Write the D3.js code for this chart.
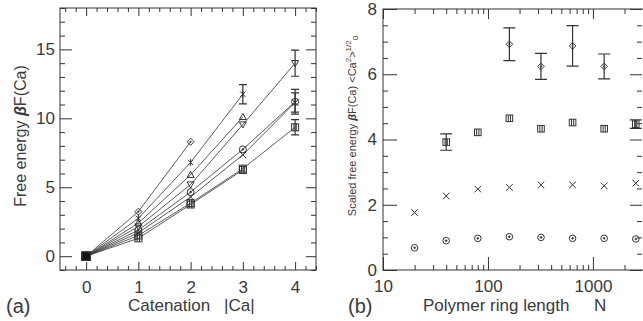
<!DOCTYPE html>
<html>
<head>
<meta charset="utf-8">
<script src="https://cdn.jsdelivr.net/npm/d3@7"></script>
<style>
  body { margin: 0; background: #fff; }
  text { font-family: "Liberation Sans", Arial, sans-serif; fill: #3a3a3a; }
</style>
</head>
<body>
<div id="chart"></div>
<script>
// ---- panel (a): free energy vs catenation ----
const catenation = [0, 1, 2, 3, 4];
const feDiamond  = [0, 3.23, 8.3];
const feStar     = [0, 2.75, 6.8, 11.75];
const feTri      = [0, 2.4, 5.9, 10.1];
const feTriDown  = [0, 2.15, 5.2, 9.55, 14.0];
const feCircle   = [0, 1.9, 4.65, 7.75, 11.2];
const feCross    = [0, 1.7, 4.3, 7.35, 11.15];
const feSquare   = [0, 1.5, 3.85, 6.35, 9.35];
const feSquare2  = [0, 1.3, 3.75, 6.25];
// error bars (same index as catenation), null = none
const errStar    = [null, null, null, 0.7];
const errTriDown = [null, null, null, null, 0.95];
const errCircle  = [null, null, null, null, 0.9];
const errCross   = [null, null, null, null, 0.7];
const errSquare  = [null, null, null, null, 0.55];
const xTicksA = [0, 1, 2, 3, 4];
const yTicksA = [0, 5, 10, 15];

// ---- panel (b): scaled free energy vs ring length ----
const ringLength = [20, 40, 80, 160, 320, 640, 1280, 2560];
const scaledCa1 = [0.68, 0.90, 0.97, 1.02, 1.00, 0.97, 0.97, 0.95];
const scaledCa2 = [1.76, 2.27, 2.48, 2.53, 2.61, 2.61, 2.58, 2.66];
const scaledCa3 = [null, 3.92, 4.22, 4.65, 4.33, 4.52, 4.33, 4.47];
const errCa3    = [null, 0.25, null, null, null, null, null, 0.13];
const scaledCa4 = [null, null, null, 6.92, 6.24, 6.87, 6.24, null];
const errCa4    = [null, null, null, 0.5, 0.4, 0.62, 0.38, null];
const xTicksB = [10, 100, 1000];
const yTicksB = [0, 2, 4, 6, 8];

const W = 643, H = 321;
const ink = '#333';

const svg = d3.select('#chart').append('svg')
    .attr('width', W)
    .attr('height', H);

function marker(g, type, cx, cy, r) {
    const s = g.append('g').attr('transform', `translate(${cx},${cy})`)
        .attr('fill', 'none').attr('stroke', ink).attr('stroke-width', 1);
    if (type === 'filled') {
        s.append('rect').attr('x', -r).attr('y', -r).attr('width', 2 * r).attr('height', 2 * r)
            .attr('fill', '#111');
    } else if (type === 'diamond') {
        s.append('path').attr('d', `M0,${-r}L${r},0L0,${r}L${-r},0Z`);
        s.append('circle').attr('r', 0.6).attr('fill', ink);
    } else if (type === 'star') {
        const d = r * 0.75;
        s.append('path').attr('d', `M0,${-r}V${r}M${-d},${-d}L${d},${d}M${-d},${d}L${d},${-d}`);
    } else if (type === 'tri') {
        s.append('path').attr('d', `M0,${-r}L${r},${r * 0.75}L${-r},${r * 0.75}Z`);
    } else if (type === 'triDown') {
        s.append('path').attr('d', `M0,${r}L${r},${-r * 0.75}L${-r},${-r * 0.75}Z`);
    } else if (type === 'circle') {
        s.append('circle').attr('r', r);
        s.append('circle').attr('r', 0.8).attr('fill', ink);
    } else if (type === 'cross') {
        s.append('path').attr('d', `M${-r},${-r}L${r},${r}M${-r},${r}L${r},${-r}`);
    } else if (type === 'square') {
        s.append('rect').attr('x', -r).attr('y', -r).attr('width', 2 * r).attr('height', 2 * r);
        s.append('path').attr('d', `M${-r / 3},${-r}V${r}M${r / 3},${-r}V${r}`);
    }
}

function errBar(g, cx, y0, y1, cap) {
    g.append('path')
        .attr('d', `M${cx},${y0}V${y1}M${cx - cap},${y0}H${cx + cap}M${cx - cap},${y1}H${cx + cap}`)
        .attr('stroke', ink).attr('stroke-width', 1.2).attr('fill', 'none');
}

function ticks(g, axisFn, scale, values, size, pos, labels, pad) {
    const ax = g.append('g')
        .attr('transform', pos)
        .call(axisFn(scale).tickValues(values).tickSizeInner(-size).tickSizeOuter(0)
            .tickPadding(pad || 0)
            .tickFormat(labels ? d3.format('d') : ''));
    ax.select('.domain').remove();
    ax.selectAll('line').attr('stroke', ink).attr('stroke-width', 1);
    ax.selectAll('text').attr('fill', '#3a3a3a').attr('font-size', 17)
        .attr('font-family', '"Liberation Sans", Arial, sans-serif');
    return ax;
}

// ================= panel (a) =================
const A = { left: 60, right: 316, top: 8, bottom: 270 };
const xA = d3.scaleLinear().domain([-0.5, 4.4]).range([A.left, A.right]);
const yA = d3.scaleLinear().domain([-1, 18]).range([A.bottom, A.top]);
const gA = svg.append('g');

const minorXA = d3.range(-0.4, 4.41, 0.2).map(v => +v.toFixed(1)).filter(v => !xTicksA.includes(v));
const minorYA = d3.range(-1, 18.01, 1).filter(v => !yTicksA.includes(v));

ticks(gA, d3.axisBottom, xA, xTicksA, 8, `translate(0,${A.bottom})`, true, 11);
ticks(gA, d3.axisBottom, xA, minorXA, 4, `translate(0,${A.bottom})`, false);
ticks(gA, d3.axisTop, xA, xTicksA, 8, `translate(0,${A.top})`, false);
ticks(gA, d3.axisTop, xA, minorXA, 4, `translate(0,${A.top})`, false);
ticks(gA, d3.axisLeft, yA, yTicksA, 12, `translate(${A.left},0)`, true, 5);
ticks(gA, d3.axisLeft, yA, minorYA, 5, `translate(${A.left},0)`, false);
ticks(gA, d3.axisRight, yA, yTicksA, 10, `translate(${A.right},0)`, false);
ticks(gA, d3.axisRight, yA, minorYA, 5, `translate(${A.right},0)`, false);

gA.append('rect')
    .attr('x', A.left).attr('y', A.top)
    .attr('width', A.right - A.left).attr('height', A.bottom - A.top)
    .attr('fill', 'none').attr('stroke', ink).attr('stroke-width', 1);

const seriesA = [
    { vals: feSquare2, err: null, type: 'square' },
    { vals: feSquare, err: errSquare, type: 'square' },
    { vals: feCross, err: errCross, type: 'cross' },
    { vals: feCircle, err: errCircle, type: 'circle' },
    { vals: feTriDown, err: errTriDown, type: 'triDown' },
    { vals: feTri, err: null, type: 'tri' },
    { vals: feStar, err: errStar, type: 'star' },
    { vals: feDiamond, err: null, type: 'diamond' }
];

const lineA = d3.line().x((d, i) => xA(catenation[i])).y(d => yA(d));

seriesA.forEach(s => {
    gA.append('path')
        .datum(s.vals)
        .attr('d', lineA)
        .attr('fill', 'none')
        .attr('stroke', ink)
        .attr('stroke-width', 0.8);
});
seriesA.forEach(s => {
    s.vals.forEach((v, i) => {
        const cx = xA(catenation[i]), cy = yA(v);
        if (s.err && s.err[i] != null) errBar(gA, cx, yA(v - s.err[i]), yA(v + s.err[i]), 4);
        marker(gA, i === 0 ? 'filled' : s.type, cx, cy, i === 0 ? 4 : 3.5);
    });
});

// axis titles (a)
gA.append('text')
    .attr('x', 128).attr('y', 311)
    .attr('font-size', 17)
    .text('Catenation');
gA.append('text')
    .attr('x', 224).attr('y', 311)
    .attr('font-size', 17)
    .text('|Ca|');
gA.append('text')
    .attr('x', 6).attr('y', 313)
    .attr('font-size', 20)
    .text('(a)');

const ylabA = gA.append('text')
    .attr('transform', 'translate(26,136) rotate(-90)')
    .attr('text-anchor', 'middle')
    .attr('font-size', 16);
ylabA.append('tspan').text('Free energy  ');
ylabA.append('tspan').attr('font-weight', 'bold').attr('font-style', 'italic').text('β');
ylabA.append('tspan').text('F(Ca)');

// ================= panel (b) =================
const B = { left: 383, right: 643, top: 9, bottom: 270 };
const xB = d3.scaleLog().domain([10, 3000]).range([B.left, B.right]);
const yB = d3.scaleLinear().domain([0, 8]).range([B.bottom, B.top]);
const gB = svg.append('g');

const minorXB = [20, 30, 40, 50, 60, 70, 80, 90, 200, 300, 400, 500, 600, 700, 800, 900, 2000, 3000]
    .filter(v => v < 3000);
const minorYB = d3.range(0.5, 8, 0.5).filter(v => !yTicksB.includes(v));

ticks(gB, d3.axisBottom, xB, xTicksB, 13, `translate(0,${B.bottom})`, true, 10);
ticks(gB, d3.axisBottom, xB, minorXB, 5, `translate(0,${B.bottom})`, false);
ticks(gB, d3.axisTop, xB, xTicksB, 10, `translate(0,${B.top})`, false);
ticks(gB, d3.axisTop, xB, minorXB, 5, `translate(0,${B.top})`, false);
ticks(gB, d3.axisLeft, yB, yTicksB, 14, `translate(${B.left},0)`, true, 6);
ticks(gB, d3.axisLeft, yB, minorYB, 5, `translate(${B.left},0)`, false);
ticks(gB, d3.axisRight, yB, yTicksB, 12, `translate(${B.right - 1},0)`, false);
ticks(gB, d3.axisRight, yB, minorYB, 5, `translate(${B.right - 1},0)`, false);

gB.append('rect')
    .attr('x', B.left).attr('y', B.top)
    .attr('width', B.right - B.left + 2).attr('height', B.bottom - B.top)
    .attr('fill', 'none').attr('stroke', ink).attr('stroke-width', 1);

const seriesB = [
    { vals: scaledCa1, err: null, type: 'circle' },
    { vals: scaledCa2, err: null, type: 'cross' },
    { vals: scaledCa3, err: errCa3, type: 'square' },
    { vals: scaledCa4, err: errCa4, type: 'diamond' }
];
seriesB.forEach(s => {
    s.vals.forEach((v, i) => {
        if (v == null) return;
        const cx = xB(ringLength[i]), cy = yB(v);
        if (s.err && s.err[i] != null) errBar(gB, cx, yB(v - s.err[i]), yB(v + s.err[i]), 6);
        marker(gB, s.type, cx, cy, 3.3);
    });
});

gB.append('text')
    .attr('x', 423).attr('y', 311)
    .attr('font-size', 17)
    .text('Polymer ring length');
gB.append('text')
    .attr('x', 594).attr('y', 311)
    .attr('font-size', 17)
    .text('N');
gB.append('text')
    .attr('x', 348).attr('y', 313)
    .attr('font-size', 20)
    .text('(b)');

const ylabB = gB.append('text')
    .attr('transform', 'translate(356,126) rotate(-90)')
    .attr('text-anchor', 'middle')
    .attr('font-size', 11);
ylabB.append('tspan').text('Scaled free energy  ');
ylabB.append('tspan').attr('font-weight', 'bold').attr('font-style', 'italic').text('β');
ylabB.append('tspan').text('F(Ca) <Ca');
ylabB.append('tspan').attr('font-size', 8).attr('dy', -5).text('2');
ylabB.append('tspan').attr('dy', 5).text('>');
ylabB.append('tspan').attr('font-size', 8).attr('dy', -5).text('1/2');
ylabB.append('tspan').attr('font-size', 8).attr('dy', 7).text('0');
</script>
</body>
</html>
